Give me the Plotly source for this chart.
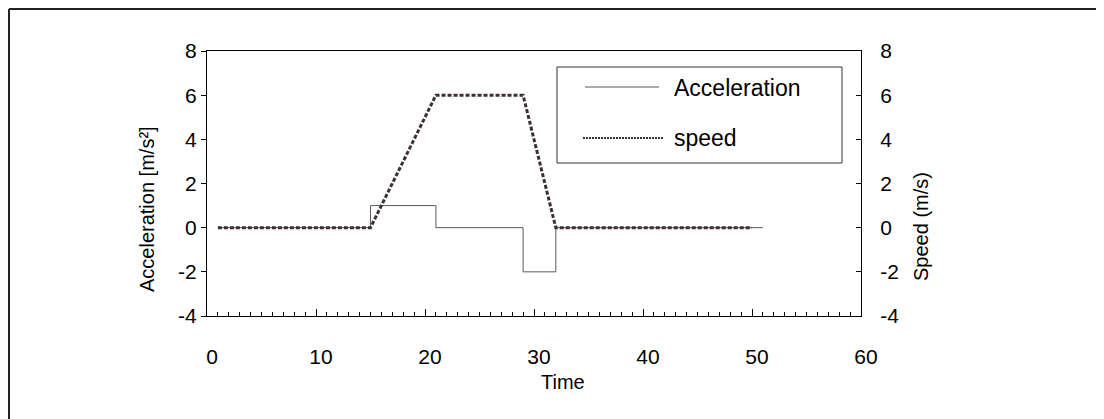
import plotly.graph_objects as go

# Data
accel_time = [1, 15, 21, 29, 32, 51]
accel_value = [0, 1, 0, -2, 0, 0]
speed_time = [1, 15, 21, 29, 32, 50]
speed_value = [0, 0, 6, 6, 0, 0]
y_ticks = [-4, -2, 0, 2, 4, 6, 8]
y_tick_labels = ["-4", "-2", "0", "2", "4", "6", "8"]
x_ticks = [0, 10, 20, 30, 40, 50, 60]
series_names = ["Acceleration", "speed"]
axis_titles = {"x": "Time", "y": "Acceleration [m/s²]", "y2": "Speed (m/s)"}

FONT = "Liberation Sans, Arial, sans-serif"
ACC_COLOR = "#5a5a5a"
SPD_COLOR = "#3b3035"

fig = go.Figure()
fig.add_trace(go.Scatter(x=accel_time, y=accel_value, name=series_names[0], mode="lines",
                         line=dict(shape="hv", color=ACC_COLOR, width=1), showlegend=False))
fig.add_trace(go.Scatter(x=speed_time, y=speed_value, name=series_names[1], mode="lines", yaxis="y2",
                         line=dict(color=SPD_COLOR, width=3, dash="4px,2px"), showlegend=False))

# page offset of the figure (body margin)
OX, OY = 8, 8
W, H = 1096, 411
L, R, T, B = 207 - OX, 861 - OX, 51 - OY, 316 - OY

def px(x):  # page pixel -> paper
    return (x - OX - L) / (R - L)

def py(y):
    return (B - (y - OY)) / (B - T)

shapes = [
    # outer frame
    dict(type="line", xref="paper", yref="paper", x0=px(9), x1=px(9), y0=py(9), y1=py(440), line=dict(color="#222", width=2)),
    dict(type="line", xref="paper", yref="paper", x0=px(9), x1=px(1110), y0=py(9), y1=py(9), line=dict(color="#222", width=2)),
    dict(type="line", xref="paper", yref="paper", x0=px(1102), x1=px(1102), y0=py(10), y1=py(440), line=dict(color="#dddddd", width=1)),
    # legend box
    dict(type="rect", xref="paper", yref="paper", x0=px(557), x1=px(842), y0=py(67), y1=py(163), line=dict(color="#333", width=1)),
    dict(type="line", xref="paper", yref="paper", x0=px(585), x1=px(659), y0=py(87), y1=py(87), line=dict(color=ACC_COLOR, width=1)),
    dict(type="line", xref="paper", yref="paper", x0=px(583), x1=px(663), y0=py(138), y1=py(138), line=dict(color=SPD_COLOR, width=2, dash="2px,1px")),
]
annotations = [
    dict(xref="paper", yref="paper", x=px(672), y=py(88), text=series_names[0], showarrow=False,
         xanchor="left", yanchor="middle", font=dict(family=FONT, size=23, color="black")),
    dict(xref="paper", yref="paper", x=px(672), y=py(138), text=series_names[1], showarrow=False,
         xanchor="left", yanchor="middle", font=dict(family=FONT, size=23, color="black")),
    # axis titles
    dict(xref="paper", yref="paper", x=px(563), y=py(382), text=axis_titles["x"], showarrow=False,
         xanchor="center", yanchor="middle", font=dict(family=FONT, size=20, color="black")),
    dict(xref="paper", yref="paper", x=px(147), y=py(209), text=axis_titles["y"], showarrow=False, textangle=-90,
         xanchor="center", yanchor="middle", font=dict(family=FONT, size=20, color="black")),
    dict(xref="paper", yref="paper", x=px(921), y=py(226), text=axis_titles["y2"], showarrow=False, textangle=-90,
         xanchor="center", yanchor="middle", font=dict(family=FONT, size=20, color="black")),
]

fig.update_layout(
    width=W, height=H,
    margin=dict(l=L, r=W - R, t=T, b=H - B, autoexpand=False),
    paper_bgcolor="white", plot_bgcolor="white",
    font=dict(family=FONT, size=20, color="black"),
    shapes=shapes, annotations=annotations,
    xaxis=dict(range=[0, 60], tickvals=x_ticks, ticks="inside", ticklen=7, tickwidth=1, tickcolor="black",
               showline=True, linecolor="black", linewidth=1, mirror=True, showgrid=False, zeroline=False,
               ticklabelstandoff=22, ticklabelshift=5, tickfont=dict(size=21),
               minor=dict(dtick=1, ticks="inside", ticklen=4, tickcolor="black", showgrid=False)),
    yaxis=dict(range=[-4, 8], tickvals=y_ticks, ticktext=y_tick_labels, ticks="outside", ticklen=5, tickcolor="black",
               showline=True, linecolor="black", linewidth=1, showgrid=False, zeroline=False,
               tickfont=dict(size=21)),
    yaxis2=dict(range=[-4, 8], tickvals=y_ticks, ticktext=y_tick_labels, ticks="inside", ticklen=5, tickcolor="black",
                overlaying="y", side="right", showline=True, linecolor="black", linewidth=1,
                showgrid=False, zeroline=False, ticklabelstandoff=14, tickfont=dict(size=21)),
)

fig.write_html("out.html")
